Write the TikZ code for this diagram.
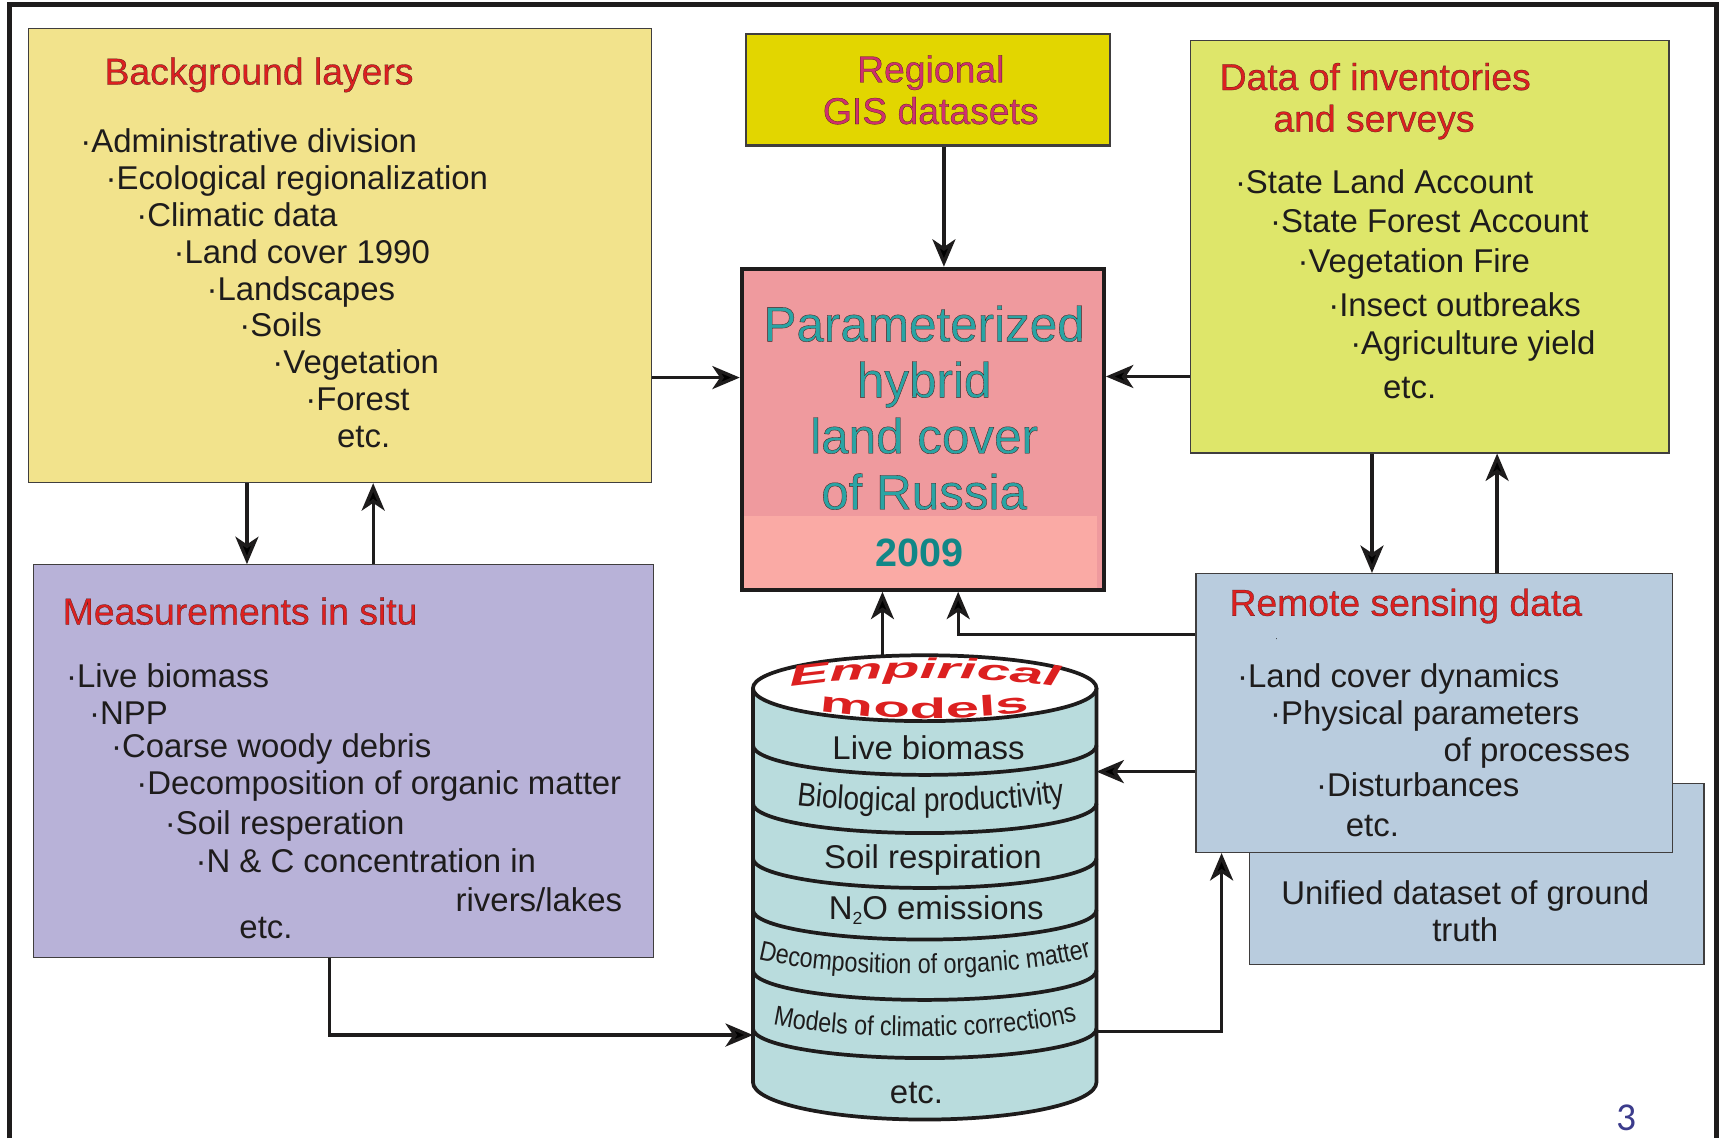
\documentclass[tikz,border=0pt]{standalone}
\usepackage{fontspec}
\setmainfont{Liberation Sans}
\newfontfamily\narrowfont[FakeStretch=0.85]{Liberation Sans}
\newfontfamily\olfont[FakeBold=0.7]{Liberation Sans}
\newfontfamily\empfont[FakeStretch=2.1]{Liberation Sans}
\newfontfamily\pagefont{Carlito}
\usetikzlibrary{arrows.meta,decorations.text}
\definecolor{bgyel}{RGB}{242,227,140}
\definecolor{gisyel}{RGB}{226,214,0}
\definecolor{invgreen}{RGB}{222,230,106}
\definecolor{ctrpink}{RGB}{239,154,158}
\definecolor{ctrband}{RGB}{250,170,165}
\definecolor{measlav}{RGB}{184,178,216}
\definecolor{rsblue}{RGB}{185,204,222}
\definecolor{cylteal}{RGB}{185,220,221}
\definecolor{ttlred}{RGB}{220,32,32}
\definecolor{gismag}{RGB}{208,48,110}
\definecolor{ctrteal}{RGB}{42,164,164}
\definecolor{yearteal}{RGB}{17,135,135}
\definecolor{pagenum}{RGB}{60,60,140}
\definecolor{ink}{RGB}{30,28,28}
\newcommand\olt[1]{\special{pdf:literal direct 0.3 0.12 0.12 RG}#1}
\begin{document}
\begin{tikzpicture}[x=1pt,y=-1pt,
  box/.style={draw=ink!85, line width=1.2pt, inner sep=0pt, anchor=north west},
  item/.style={anchor=base west, inner sep=0pt, text=ink, font=\fontsize{30}{36}\selectfont},
  ttl/.style={anchor=base west, inner sep=0pt, text=ttlred, font=\olfont\fontsize{34}{40}\selectfont},
  ctrtxt/.style={anchor=base, inner sep=0pt, text=ctrteal, font=\olfont\fontsize{45}{50}\selectfont},
  gistxt/.style={anchor=base, inner sep=0pt, text=gismag, font=\olfont\fontsize{34}{40}\selectfont},
  cyltxt/.style={anchor=base, inner sep=0pt, text=ink, font=\fontsize{30}{36}\selectfont},
  arr/.style={line width=3pt, draw=ink, -{Stealth[length=25pt,width=21pt,inset=7pt]}},
  cylline/.style={line width=3.4pt, draw=ink},
]
\useasboundingbox (0,0) rectangle (1568,1037);
\fill[white] (0,0) rectangle (1568,1037);
% outer frame
\draw[line width=4.5pt, draw=ink] (9,1037) -- (9,4.5) -- (1564,4.5) -- (1564,1037);

% boxes
\node[box, fill=bgyel, minimum width=567.5pt, minimum height=413.5pt] (bg) at (25.5,25.5) {};
\node[box, fill=gisyel, line width=2pt, minimum width=331pt, minimum height=101.5pt] (gis) at (679,30) {};
\node[box, fill=invgreen, minimum width=436pt, minimum height=376pt] (inv) at (1084,36) {};
\node[box, fill=ctrpink, draw=ink, line width=3.6pt, minimum width=330pt, minimum height=292.5pt,
  path picture={\fill[ctrband] ([xshift=2pt]path picture bounding box.south west) rectangle ([xshift=-6pt,yshift=67pt]path picture bounding box.south east);}] (ctr) at (674,243) {};
\node[box, fill=measlav, minimum width=565pt, minimum height=358pt] (meas) at (30,514) {};
\node[box, fill=rsblue, minimum width=414pt, minimum height=165pt] (unif) at (1138,713) {};
\node[box, fill=rsblue, minimum width=434pt, minimum height=254pt] (rs) at (1089,522) {};

% Background layers
\node[ttl] (bgt) at (95,77) {\olt{Background layers}};
\node[item] (b1) at (73,139) {·Administrative division};
\node[item] (b2) at (96,172.6) {·Ecological regionalization};
\node[item] (b3) at (124,206.2) {·Climatic data};
\node[item] (b4) at (158,239.8) {·Land cover 1990};
\node[item] (b5) at (188,273.4) {·Landscapes};
\node[item] (b6) at (218,307) {·Soils};
\node[item] (b7) at (248,340.6) {·Vegetation};
\node[item] (b8) at (278,374.2) {·Forest};
\node[item] (b9) at (307,407.8) {etc.};

% GIS
\node[gistxt] (g1) at (848,75) {\olt{Regional}};
\node[gistxt] (g2) at (848,113) {\olt{GIS datasets}};

% inventories
\node[ttl] (it1) at (1111,82) {\olt{Data of inventories}};
\node[ttl] (it2) at (1160,120) {\olt{and serveys}};
\node[item] (i1) at (1125,176) {·State Land Account};
\node[item] (i2) at (1157,212) {·State Forest Account};
\node[item] (i3) at (1182,248) {·Vegetation Fire};
\node[item] (i4) at (1210,288) {·Insect outbreaks};
\node[item] (i5) at (1230,323) {·Agriculture yield};
\node[item] (i6) at (1260,363) {etc.};

% center
\node[ctrtxt] (c1) at (842,311) {\olt{Parameterized}};
\node[ctrtxt] (c2) at (842,362) {\olt{hybrid}};
\node[ctrtxt] (c3) at (842,413) {\olt{land cover}};
\node[ctrtxt] (c4) at (842,464) {\olt{of Russia}};
\node[anchor=base, inner sep=0pt, text=yearteal, font=\bfseries\fontsize{36}{40}\selectfont] (yr) at (838,516) {2009};

% measurements
\node[ttl] (mt) at (57,569) {\olt{Measurements in situ}};
\node[item] (m1) at (60,626) {·Live biomass};
\node[item] (m2) at (81,660) {·NPP};
\node[item] (m3) at (101,690) {·Coarse woody debris};
\node[item] (m4) at (124,724) {·Decomposition of organic matter};
\node[item] (m5) at (150,760) {·Soil resperation};
\node[item] (m6) at (178,795) {·N \& C concentration in};
\node[item] (m7) at (415,830) {rivers/lakes};
\node[item] (m8) at (218,855) {etc.};

% unified
\node[cyltxt] (u1) at (1335,824) {Unified dataset of ground};
\node[cyltxt] (u2) at (1335,858) {truth};

% remote sensing
\node[ttl] (rt) at (1120,561) {\olt{Remote sensing data}};
\node[inner sep=0pt, text=ink, font=\fontsize{8}{8}\selectfont] (rsdot) at (1163,583) {·};
\node[item] (r1) at (1127,626) {·Land cover dynamics};
\node[item] (r2) at (1157,660) {·Physical parameters};
\node[item] (r3) at (1315,694) {of processes};
\node[item] (r4) at (1199,726) {·Disturbances};
\node[item] (r5) at (1226,762) {etc.};

% cylinder
\fill[cylteal] (686,627) -- (686,986) .. controls (686,1004.8) and (756.1,1020) .. (842.5,1020)
   .. controls (928.9,1020) and (999,1004.8) .. (999,986) -- (999,627) -- cycle;
\foreach \yy in {679,732,782,829,884,937}
  \draw[cylline] (686,\yy) .. controls (686,\yy+14.9) and (756.1,\yy+27) .. (842.5,\yy+27)
     .. controls (928.9,\yy+27) and (999,\yy+14.9) .. (999,\yy);
\draw[cylline] (686,627) -- (686,986) .. controls (686,1004.8) and (756.1,1020) .. (842.5,1020)
   .. controls (928.9,1020) and (999,1004.8) .. (999,986) -- (999,627);
\draw[cylline, fill=white] (842.5,627) ellipse [x radius=156.5, y radius=30];

\path[decorate, decoration={text along path, text align=center, text color=ttlred,
   text={|\empfont\bfseries\itshape\fontsize{26}{28}\selectfont|Empirical}}]
   (698,630) .. controls (768,614) and (917,614) .. (987,630);
\path[decorate, decoration={text along path, text align=center, text color=ttlred,
   text={|\empfont\bfseries\fontsize{26}{28}\selectfont|models}}]
   (722,642) .. controls (780,658) and (905,658) .. (963,644);

\node[cyltxt] (e1) at (846,692) {Live biomass};
\path[decorate, decoration={text along path, text align=center, text color=ink,
   text={|\narrowfont\fontsize{30}{34}\selectfont|Biological productivity}}]
   (700,729) .. controls (760,743) and (935,743) .. (996,725);
\node[cyltxt] (e3) at (850,791) {Soil respiration};
\node[cyltxt] (e4) at (853,838) {N\raisebox{-4pt}{\fontsize{16}{16}\selectfont 2}O emissions};
\path[decorate, decoration={text along path, text align=center, text color=ink,
   text={|\narrowfont\fontsize{25}{28}\selectfont|Decomposition of organic matter}}]
   (672,868) .. controls (735,894) and (950,894) .. (1013,865);
\path[decorate, decoration={text along path, text align=center, text color=ink,
   text={|\narrowfont\fontsize{25}{28}\selectfont|Models of climatic corrections}}]
   (685,928) .. controls (745,950) and (940,950) .. (1000,924);
\node[cyltxt] (e7) at (835,1005) {etc.};

\coordinate (cyltop) at (804,598);
\coordinate (cylR1) at (999,703);
\coordinate (cylL) at (686,943);
\coordinate (cylR2) at (999,940);

% connectors
\draw[arr] (bg.east |- 0,344) -- (ctr.west |- 0,344);
\draw[arr] (inv.west |- 0,343) -- (ctr.east |- 0,343);
\draw[arr] (gis.south -| 860,0) -- (ctr.north -| 860,0);
\draw[arr] (bg.south -| 225,0) -- (meas.north -| 225,0);
\draw[arr] (meas.north -| 340,0) -- (bg.south -| 340,0);
\draw[arr] (inv.south -| 1250,0) -- (rs.north -| 1250,0);
\draw[arr] (rs.north -| 1364,0) -- (inv.south -| 1364,0);
\draw[arr] (cyltop) -- (ctr.south -| cyltop);
\draw[arr] (rs.west |- 0,578) -| (ctr.south -| 873,0);
\draw[arr] (rs.west |- cylR1) -- (cylR1);
\draw[arr] (meas.south -| 300,0) |- (cylL);
\draw[arr] (cylR2) -| (rs.south -| 1113,0);

\node[anchor=base, inner sep=0pt, text=pagenum, font=\pagefont\fontsize{36}{40}\selectfont] (pg) at (1482,1030) {3};
\end{tikzpicture}
\end{document}
